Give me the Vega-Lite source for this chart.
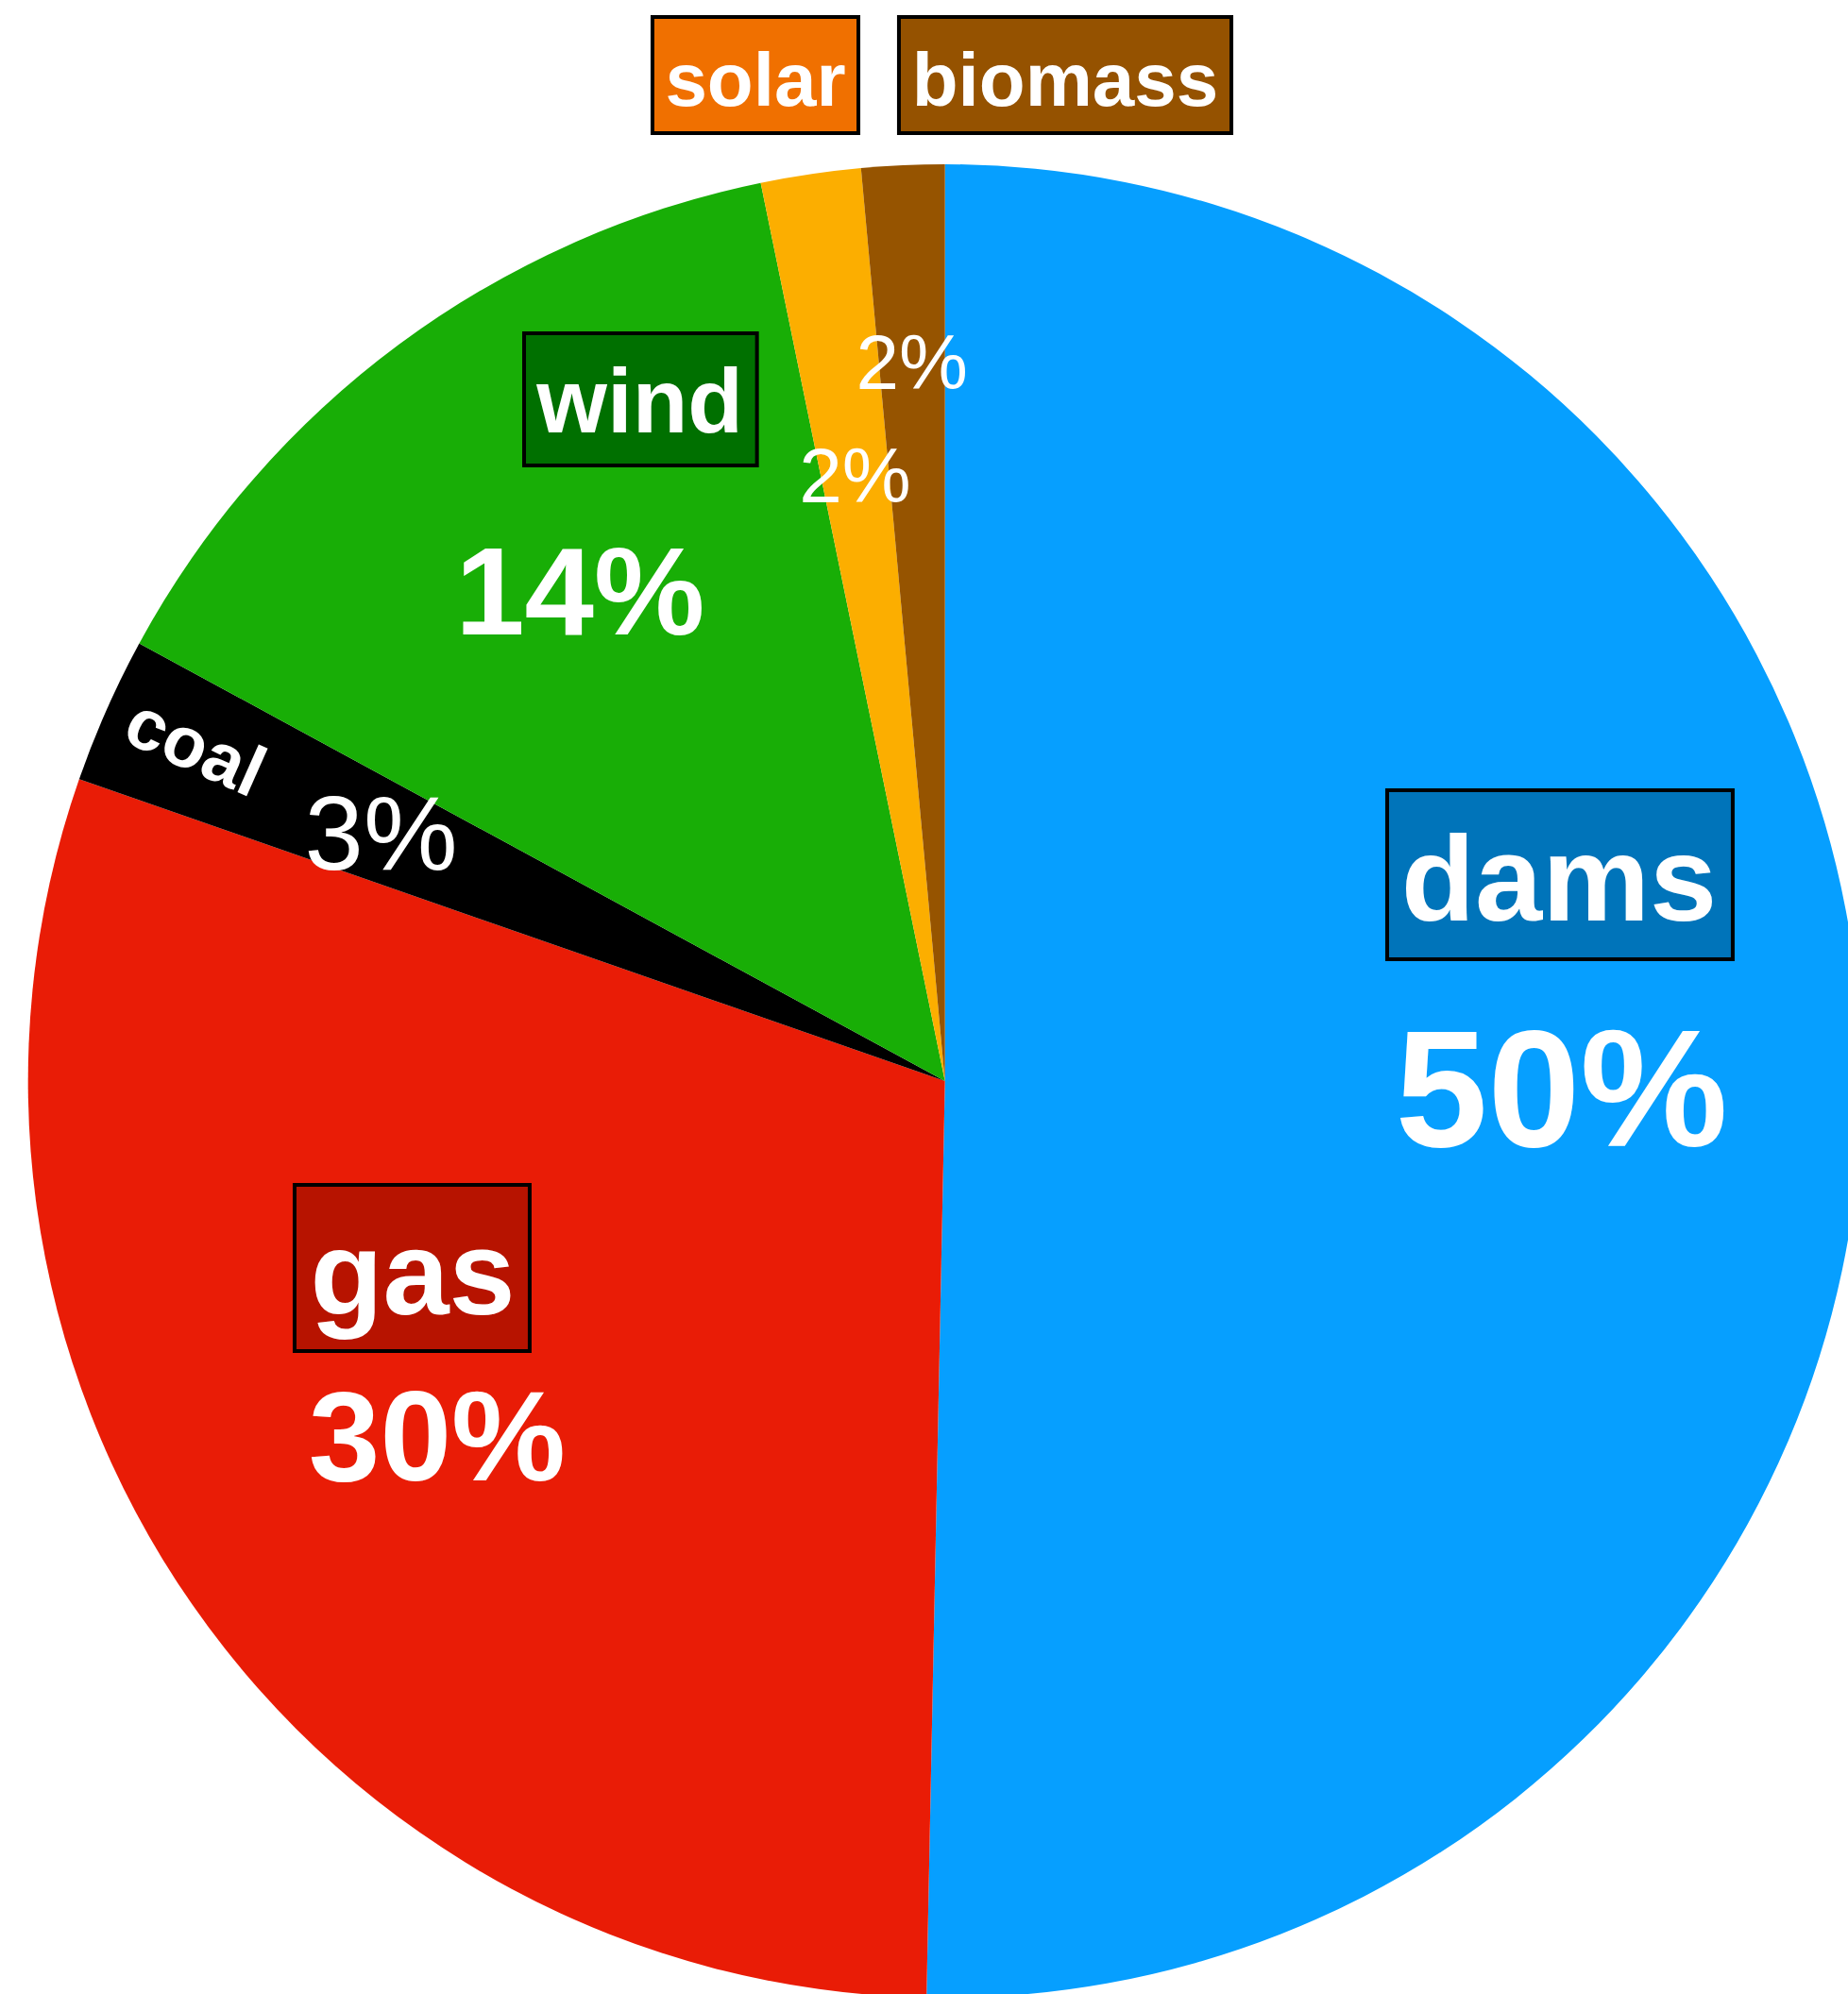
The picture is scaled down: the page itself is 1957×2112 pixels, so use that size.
{
  "$schema": "https://vega.github.io/schema/vega-lite/v6.json",
  "width": 1957,
  "height": 2112,
  "autosize": {"type": "none"},
  "padding": 0,
  "background": "white",
  "config": {"view": {"stroke": null}, "text": {"font": "Liberation Sans"}},
  "data": {
    "values": [
      {"name": "dams", "value": 50.32, "pct": "50%", "order": 1},
      {"name": "gas", "value": 30.02, "pct": "30%", "order": 2},
      {"name": "coal", "value": 2.58, "pct": "3%", "order": 3},
      {"name": "wind", "value": 13.86, "pct": "14%", "order": 4},
      {"name": "solar", "value": 1.76, "pct": "2%", "order": 5},
      {"name": "biomass", "value": 1.46, "pct": "2%", "order": 6}
    ]
  },
  "layer": [
    {
      "mark": {"type": "arc", "radius": 971},
      "encoding": {
        "theta": {"field": "value", "type": "quantitative", "stack": true},
        "order": {"field": "order", "type": "quantitative"},
        "color": {"field": "name", "type": "nominal", "legend": null,
          "scale": {"domain": ["dams", "gas", "coal", "wind", "solar", "biomass"],
                    "range": ["#069FFF", "#E91C06", "#000000", "#18AE06", "#FCAE00", "#965400"]}},
        "x": {"datum": 0, "type": "quantitative", "axis": null, "scale": {"domain": [-103.06, 98.49], "nice": false, "zero": false}},
        "y": {"datum": 0, "type": "quantitative", "axis": null, "scale": {"domain": [-99.59, 117.92], "nice": false, "zero": false}}
      }
    },
    {
      "mark": {"type": "text", "radius": 653, "fontWeight": "bold", "color": "white", "fontSize": 176, "dy": 9},
      "encoding": {
        "theta": {"field": "value", "type": "quantitative", "stack": true},
        "order": {"field": "order", "type": "quantitative"},
        "text": {"condition": {"test": "datum.name === 'dams'", "field": "pct"}, "value": ""},
        "x": {"datum": 0, "type": "quantitative", "axis": null, "scale": {"domain": [-103.06, 98.49], "nice": false, "zero": false}},
        "y": {"datum": 0, "type": "quantitative", "axis": null, "scale": {"domain": [-99.59, 117.92], "nice": false, "zero": false}}
      }
    },
    {
      "mark": {"type": "text", "radius": 655, "fontWeight": "bold", "color": "white", "fontSize": 136, "dy": 8},
      "encoding": {
        "theta": {"field": "value", "type": "quantitative", "stack": true},
        "order": {"field": "order", "type": "quantitative"},
        "text": {"condition": {"test": "datum.name === 'gas'", "field": "pct"}, "value": ""},
        "x": {"datum": 0, "type": "quantitative", "axis": null, "scale": {"domain": [-103.06, 98.49], "nice": false, "zero": false}},
        "y": {"datum": 0, "type": "quantitative", "axis": null, "scale": {"domain": [-99.59, 117.92], "nice": false, "zero": false}}
      }
    },
    {
      "mark": {"type": "text", "radius": 649, "fontWeight": "bold", "color": "white", "fontSize": 132, "dy": 8},
      "encoding": {
        "theta": {"field": "value", "type": "quantitative", "stack": true},
        "order": {"field": "order", "type": "quantitative"},
        "text": {"condition": {"test": "datum.name === 'wind'", "field": "pct"}, "value": ""},
        "x": {"datum": 0, "type": "quantitative", "axis": null, "scale": {"domain": [-103.06, 98.49], "nice": false, "zero": false}},
        "y": {"datum": 0, "type": "quantitative", "axis": null, "scale": {"domain": [-99.59, 117.92], "nice": false, "zero": false}}
      }
    },
    {
      "mark": {"type": "text", "radius": 653, "color": "white", "fontSize": 112, "dy": 6},
      "encoding": {
        "theta": {"field": "value", "type": "quantitative", "stack": true},
        "order": {"field": "order", "type": "quantitative"},
        "text": {"condition": {"test": "datum.name === 'coal'", "field": "pct"}, "value": ""},
        "x": {"datum": 0, "type": "quantitative", "axis": null, "scale": {"domain": [-103.06, 98.49], "nice": false, "zero": false}},
        "y": {"datum": 0, "type": "quantitative", "axis": null, "scale": {"domain": [-99.59, 117.92], "nice": false, "zero": false}}
      }
    },
    {
      "mark": {"type": "text", "radius": 650, "color": "white", "fontSize": 82, "dy": 5},
      "encoding": {
        "theta": {"field": "value", "type": "quantitative", "stack": true},
        "order": {"field": "order", "type": "quantitative"},
        "text": {"condition": {"test": "datum.name === 'solar'", "field": "pct"}, "value": ""},
        "x": {"datum": 0, "type": "quantitative", "axis": null, "scale": {"domain": [-103.06, 98.49], "nice": false, "zero": false}},
        "y": {"datum": 0, "type": "quantitative", "axis": null, "scale": {"domain": [-99.59, 117.92], "nice": false, "zero": false}}
      }
    },
    {
      "mark": {"type": "text", "radius": 764, "color": "white", "fontSize": 82, "dy": 5},
      "encoding": {
        "theta": {"field": "value", "type": "quantitative", "stack": true},
        "order": {"field": "order", "type": "quantitative"},
        "text": {"condition": {"test": "datum.name === 'biomass'", "field": "pct"}, "value": ""},
        "x": {"datum": 0, "type": "quantitative", "axis": null, "scale": {"domain": [-103.06, 98.49], "nice": false, "zero": false}},
        "y": {"datum": 0, "type": "quantitative", "axis": null, "scale": {"domain": [-99.59, 117.92], "nice": false, "zero": false}}
      }
    },
    {
      "mark": {"type": "text", "radius": 869, "angle": 24, "fontWeight": "bold", "color": "white", "fontSize": 76},
      "encoding": {
        "theta": {"field": "value", "type": "quantitative", "stack": true},
        "order": {"field": "order", "type": "quantitative"},
        "text": {"condition": {"test": "datum.name === 'coal'", "field": "name"}, "value": ""},
        "x": {"datum": 0, "type": "quantitative", "axis": null, "scale": {"domain": [-103.06, 98.49], "nice": false, "zero": false}},
        "y": {"datum": 0, "type": "quantitative", "axis": null, "scale": {"domain": [-99.59, 117.92], "nice": false, "zero": false}}
      }
    },
    {
      "transform": [{"filter": "datum.name === 'dams'"}],
      "mark": {"type": "rect", "fill": "#0074BA", "stroke": "black", "strokeWidth": 4},
      "encoding": {
        "x": {"datum": 48.23, "type": "quantitative", "axis": null, "scale": {"domain": [-103.06, 98.49], "nice": false, "zero": false}},
        "x2": {"datum": 85.92},
        "y": {"datum": 31.72, "type": "quantitative", "axis": null, "scale": {"domain": [-99.59, 117.92], "nice": false, "zero": false}},
        "y2": {"datum": 13.29}
      }
    },
    {
      "transform": [{"filter": "datum.name === 'dams'"}],
      "mark": {"type": "text", "fontSize": 128, "fontWeight": "bold", "color": "white", "align": "center", "baseline": "alphabetic"},
      "encoding": {
        "x": {"datum": 66.97, "type": "quantitative", "axis": null, "scale": {"domain": [-103.06, 98.49], "nice": false, "zero": false}},
        "y": {"datum": 17.51, "type": "quantitative", "axis": null, "scale": {"domain": [-99.59, 117.92], "nice": false, "zero": false}},
        "text": {"field": "name"}
      }
    },
    {
      "transform": [{"filter": "datum.name === 'gas'"}],
      "mark": {"type": "rect", "fill": "#B71300", "stroke": "black", "strokeWidth": 4},
      "encoding": {
        "x": {"datum": -70.93, "type": "quantitative", "axis": null, "scale": {"domain": [-103.06, 98.49], "nice": false, "zero": false}},
        "x2": {"datum": -45.29},
        "y": {"datum": -11.33, "type": "quantitative", "axis": null, "scale": {"domain": [-99.59, 117.92], "nice": false, "zero": false}},
        "y2": {"datum": -29.45}
      }
    },
    {
      "transform": [{"filter": "datum.name === 'gas'"}],
      "mark": {"type": "text", "fontSize": 126, "fontWeight": "bold", "color": "white", "align": "center", "baseline": "alphabetic"},
      "encoding": {
        "x": {"datum": -58.05, "type": "quantitative", "axis": null, "scale": {"domain": [-103.06, 98.49], "nice": false, "zero": false}},
        "y": {"datum": -25.44, "type": "quantitative", "axis": null, "scale": {"domain": [-99.59, 117.92], "nice": false, "zero": false}},
        "text": {"field": "name"}
      }
    },
    {
      "transform": [{"filter": "datum.name === 'wind'"}],
      "mark": {"type": "rect", "fill": "#007000", "stroke": "black", "strokeWidth": 4},
      "encoding": {
        "x": {"datum": -45.90, "type": "quantitative", "axis": null, "scale": {"domain": [-103.06, 98.49], "nice": false, "zero": false}},
        "x2": {"datum": -20.50},
        "y": {"datum": 81.57, "type": "quantitative", "axis": null, "scale": {"domain": [-99.59, 117.92], "nice": false, "zero": false}},
        "y2": {"datum": 67.15}
      }
    },
    {
      "transform": [{"filter": "datum.name === 'wind'"}],
      "mark": {"type": "text", "fontSize": 96, "fontWeight": "bold", "color": "white", "align": "center", "baseline": "alphabetic"},
      "encoding": {
        "x": {"datum": -33.27, "type": "quantitative", "axis": null, "scale": {"domain": [-103.06, 98.49], "nice": false, "zero": false}},
        "y": {"datum": 70.75, "type": "quantitative", "axis": null, "scale": {"domain": [-99.59, 117.92], "nice": false, "zero": false}},
        "text": {"field": "name"}
      }
    },
    {
      "transform": [{"filter": "datum.name === 'solar'"}],
      "mark": {"type": "rect", "fill": "#F07000", "stroke": "black", "strokeWidth": 4},
      "encoding": {
        "x": {"datum": -31.90, "type": "quantitative", "axis": null, "scale": {"domain": [-103.06, 98.49], "nice": false, "zero": false}},
        "x2": {"datum": -9.44},
        "y": {"datum": 116.07, "type": "quantitative", "axis": null, "scale": {"domain": [-99.59, 117.92], "nice": false, "zero": false}},
        "y2": {"datum": 103.40}
      }
    },
    {
      "transform": [{"filter": "datum.name === 'solar'"}],
      "mark": {"type": "text", "fontSize": 80, "fontWeight": "bold", "color": "white", "align": "center", "baseline": "alphabetic"},
      "encoding": {
        "x": {"datum": -20.67, "type": "quantitative", "axis": null, "scale": {"domain": [-103.06, 98.49], "nice": false, "zero": false}},
        "y": {"datum": 106.39, "type": "quantitative", "axis": null, "scale": {"domain": [-99.59, 117.92], "nice": false, "zero": false}},
        "text": {"field": "name"}
      }
    },
    {
      "transform": [{"filter": "datum.name === 'biomass'"}],
      "mark": {"type": "rect", "fill": "#955200", "stroke": "black", "strokeWidth": 4},
      "encoding": {
        "x": {"datum": -5.02, "type": "quantitative", "axis": null, "scale": {"domain": [-103.06, 98.49], "nice": false, "zero": false}},
        "x2": {"datum": 31.24},
        "y": {"datum": 116.07, "type": "quantitative", "axis": null, "scale": {"domain": [-99.59, 117.92], "nice": false, "zero": false}},
        "y2": {"datum": 103.40}
      }
    },
    {
      "transform": [{"filter": "datum.name === 'biomass'"}],
      "mark": {"type": "text", "fontSize": 80, "fontWeight": "bold", "color": "white", "align": "center", "baseline": "alphabetic"},
      "encoding": {
        "x": {"datum": 13.11, "type": "quantitative", "axis": null, "scale": {"domain": [-103.06, 98.49], "nice": false, "zero": false}},
        "y": {"datum": 106.39, "type": "quantitative", "axis": null, "scale": {"domain": [-99.59, 117.92], "nice": false, "zero": false}},
        "text": {"field": "name"}
      }
    }
  ]
}
